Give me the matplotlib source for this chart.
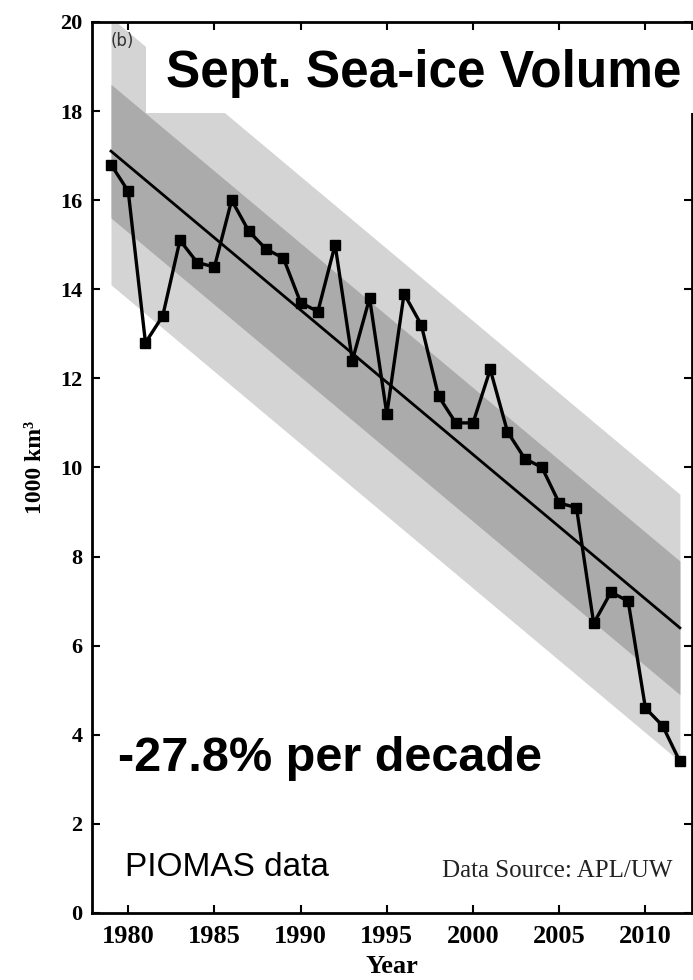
import matplotlib.pyplot as plt
from matplotlib.patches import Rectangle
import numpy as np

years = list(range(1979, 2013))
volume = [16.8, 16.2, 12.8, 13.4, 15.1, 14.6, 14.5, 16.0, 15.3, 14.9,
          14.7, 13.7, 13.5, 15.0, 12.4, 13.8, 11.2, 13.9, 13.2, 11.6,
          11.0, 11.0, 12.2, 10.8, 10.2, 10.0, 9.2, 9.1, 6.5, 7.2,
          7.0, 4.6, 4.2, 3.4]

# linear trend (ends) and the two shaded bands (+/-)
trend_years = [1979, 2012]
trend_vals = [17.1, 6.4]
band_inner = 1.5
band_outer = 3.0

xticks = [1980, 1985, 1990, 1995, 2000, 2005, 2010]
yticks = [0, 2, 4, 6, 8, 10, 12, 14, 16, 18, 20]

fig = plt.figure(figsize=(6.93, 9.80), dpi=100)
ax = fig.add_axes([0.1328, 0.0684, 0.8657, 0.9092])

ty = np.array(trend_years)
tv = np.array(trend_vals)
ax.fill_between(ty, tv - band_outer, tv + band_outer, color='#d4d4d4', lw=0, zorder=1)
ax.fill_between(ty, tv - band_inner, tv + band_inner, color='#ababab', lw=0, zorder=2)
ax.plot(ty, tv, color='black', lw=2.0, zorder=3)
ax.plot(years, volume, color='black', lw=2.4, marker='s', markersize=6.5, zorder=4)

ax.set_xlim(1977.9, 2012.7)
ax.set_ylim(0, 20)
ax.set_xticks(xticks)
ax.set_yticks(yticks)
serif_bold = dict(family='Liberation Serif', weight='bold')
ax.set_xticklabels([str(t) for t in xticks], fontsize=19, **serif_bold)
ax.set_yticklabels([str(t) for t in yticks], fontsize=16, **serif_bold)
ax.tick_params(direction='in', length=6, width=1.5, top=True, right=True)
ax.tick_params(axis='x', pad=9)
ax.tick_params(axis='y', pad=7)
for s in ax.spines.values():
    s.set_linewidth(2.0)
ax.set_xlabel('Year', fontsize=19, labelpad=5, **serif_bold)
ax.set_ylabel('1000 km³', fontsize=17, labelpad=10, **serif_bold)

ax.text(1979.0, 19.45, '(b)', fontsize=12, color='#333333', family='DejaVu Sans')
ax.text(2011.6, 0.8, 'Data Source: APL/UW', fontsize=18, family='Liberation Serif',
        color='#222222', ha='right', va='baseline')

# white overlay boxes with the big annotations
fig.add_artist(Rectangle((0.2107, 0.8847), 0.7893, 0.0847, transform=fig.transFigure,
                         facecolor='white', edgecolor='none', zorder=5))
fig.text(0.612, 0.9255, 'Sept. Sea-ice Volume', fontsize=37, weight='bold',
         family='Liberation Sans', ha='center', va='center', zorder=6)
fig.add_artist(Rectangle((0.1443, 0.1939), 0.714, 0.086, transform=fig.transFigure,
                         facecolor='white', edgecolor='none', zorder=5))
fig.text(0.170, 0.2133, '-27.8% per decade', fontsize=35, weight='bold',
         family='Liberation Sans', ha='left', va='baseline', zorder=6)
fig.text(0.180, 0.106, 'PIOMAS data', fontsize=24, family='Liberation Sans',
         ha='left', va='baseline', zorder=6)

fig.savefig('out.png', dpi=100)
